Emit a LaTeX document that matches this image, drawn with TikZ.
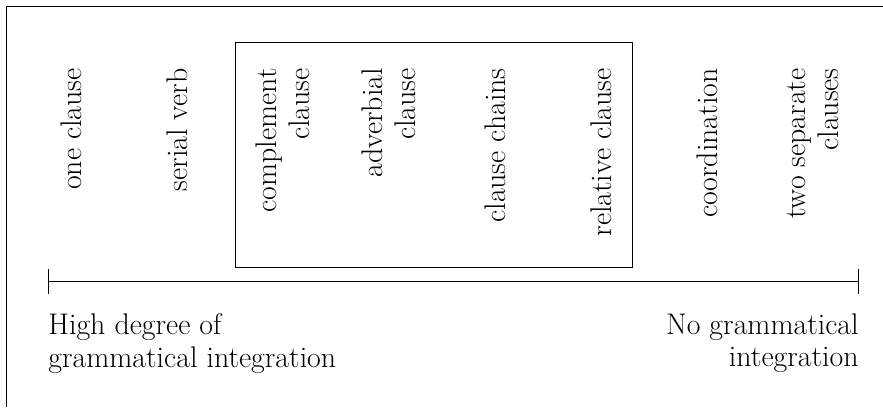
\documentclass[tikz,border=0pt]{standalone}
\usetikzlibrary{arrows.meta}
\tikzset{every node/.style={font=\fontsize{17}{18.6}\selectfont},
    stage/.style={rotate=90,anchor=east,inner sep=0pt,align=right},
    pole/.style={inner sep=0pt,anchor=north west,align=left}}
\begin{document}
\begin{tikzpicture}[x=0.02cm,y=-0.02cm]
    \useasboundingbox (0,0) rectangle (883,407);
    \draw (883,6) -- (6,6) -- (6,407);
    \foreach \n/\t [count=\i from 0] in {one/one clause,serial/serial verb,compl/{complement\\clause},
        adv/{adverbial\\clause},chain/clause chains,rel/relative clause,coord/coordination,sep/{two separate\\clauses}}
        \node[stage] (\n) at (71+106*\i,68) {\t};
    \draw (235,42) rectangle (632,267);
    \coordinate (lo) at (48,281);
    \coordinate (hi) at (859,281);
    \draw[{Bar[width=0.5cm]}-{Bar[width=0.5cm]}] (lo) -- (hi);
    \node[pole] (high) at (48,313) {High degree of\\grammatical integration};
    \node[pole,anchor=north east,align=right] (none) at (859,313) {No grammatical\\integration};
\end{tikzpicture}
\end{document}
